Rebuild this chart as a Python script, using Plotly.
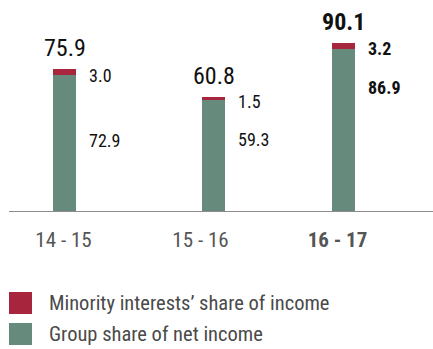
import plotly.graph_objects as go

# Net income split, in EUR million
periods = ["14 - 15", "15 - 16", "16 - 17"]
group_share = [72.9, 59.3, 86.9]
minority_share = [3.0, 1.5, 3.2]
totals = [75.9, 60.8, 90.1]
tick_labels = ["14 - 15", "15 - 16", "<b>16 - 17</b>"]
legend_names = ["Minority interests\u2019 share of income", "Group share of net income"]

RED = "#a8263d"
GREEN = "#668a7b"
FONT = "Liberation Sans Narrow, Roboto Condensed, Roboto, Arial, sans-serif"

W, H = 433, 349
ML, MB = 9, 138
PX_PER_CAT = 137.0          # pixel distance between category slots
BAR_PX = 23.0               # bar width in pixels
shift_px = [1, 13, 6]       # small horizontal nudges of each bar column
group_label_drop = [71, 42, 45]  # px below the bar top for the group-share label
highlight = [False, False, True]

plot_w = W - ML
x0 = -(63.5 - ML) / PX_PER_CAT
x_range = [x0, x0 + plot_w / PX_PER_CAT]
y_range = [0, 113]

bw = BAR_PX / PX_PER_CAT
offsets = [-bw / 2 + s / PX_PER_CAT for s in shift_px]

fig = go.Figure()
fig.add_trace(go.Bar(x=periods, y=group_share, name=legend_names[1],
                     marker=dict(color=GREEN, line=dict(width=0)),
                     width=[bw] * 3, offset=offsets, showlegend=False))
fig.add_trace(go.Bar(x=periods, y=minority_share, name=legend_names[0],
                     marker=dict(color=RED, line=dict(width=0)),
                     width=[bw] * 3, offset=offsets, showlegend=False))

def wrap(txt, bold):
    return f"<b>{txt}</b>" if bold else txt

annotations = []
for i, p in enumerate(periods):
    b = highlight[i]
    # total above the column
    annotations.append(dict(x=p, y=totals[i], xref="x", yref="y", text=wrap(f"{totals[i]:.1f}", b),
                            showarrow=False, xanchor="center", yanchor="middle",
                            xshift=shift_px[i], yshift=21,
                            font=dict(family=FONT, size=24, color="#111111")))
    # minority share beside the red cap
    annotations.append(dict(x=p, y=group_share[i] + minority_share[i] / 2, xref="x", yref="y",
                            text=wrap(f"{minority_share[i]:.1f}", b),
                            showarrow=False, xanchor="left", yanchor="middle",
                            xshift=shift_px[i] + BAR_PX / 2 + 11, yshift=-3,
                            font=dict(family=FONT, size=18, color="#111111")))
    # group share beside the green body
    annotations.append(dict(x=p, y=totals[i], xref="x", yref="y",
                            text=wrap(f"{group_share[i]:.1f}", b),
                            showarrow=False, xanchor="left", yanchor="middle",
                            xshift=shift_px[i] + BAR_PX / 2 + 11, yshift=-group_label_drop[i],
                            font=dict(family=FONT, size=18, color="#111111")))

# legend drawn as swatches plus labels below the axis
plot_h = H - MB
def px_x(x):
    return (x - ML) / plot_w
def px_y(y):
    return (plot_h - y) / plot_h

shapes = []
for name, color, top in [(legend_names[0], RED, 292), (legend_names[1], GREEN, 323)]:
    shapes.append(dict(type="rect", xref="paper", yref="paper",
                       x0=px_x(9), x1=px_x(32), y0=px_y(top), y1=px_y(top + 22),
                       fillcolor=color, line=dict(width=0)))
    annotations.append(dict(x=px_x(47), y=px_y(top + 11), xref="paper", yref="paper",
                            text=name, showarrow=False, xanchor="left", yanchor="middle",
                            font=dict(family=FONT, size=20.5, color="#4a4a4a")))

fig.update_layout(
    width=W, height=H,
    margin=dict(l=ML, r=0, t=0, b=MB),
    barmode="stack",
    plot_bgcolor="white", paper_bgcolor="white",
    xaxis=dict(type="category", range=x_range, showline=True, linecolor="#8c8c8c", linewidth=1,
               showgrid=False, zeroline=False, ticks="", tickvals=periods, ticktext=tick_labels,
               tickfont=dict(family=FONT, size=21, color="#555555"), ticklabelstandoff=10),
    yaxis=dict(range=y_range, visible=False, showgrid=False, zeroline=False),
    annotations=annotations, shapes=shapes,
    showlegend=False,
)

fig.write_html("out.html")
